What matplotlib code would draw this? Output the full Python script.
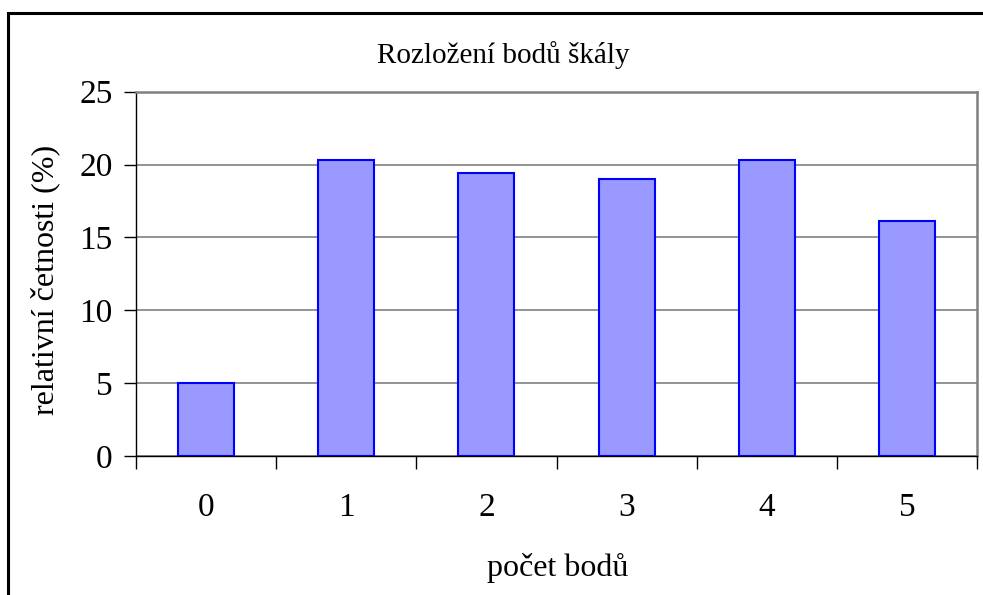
import numpy as np
import matplotlib
matplotlib.use('Agg')
import matplotlib.pyplot as plt
from matplotlib.patches import Rectangle

# data
categories = ['0', '1', '2', '3', '4', '5']
values = [5.0, 20.3, 19.4, 19.0, 20.3, 16.1]

plt.rcParams['font.family'] = ['Liberation Serif', 'DejaVu Serif']

fig = plt.figure(figsize=(9.83, 5.95), dpi=100)
ax = fig.add_axes([136/983, 1 - 456/595, (977 - 136)/983, (456 - 91.7)/595])

# outer chart border (right and bottom run off the picture)
fig.patches.append(Rectangle((8/983, -0.1), 1.2, 1 - 13/595 + 0.1,
                             transform=fig.transFigure, fill=False,
                             edgecolor='black', linewidth=2.2))

x = np.arange(len(categories)) + 0.5
ax.bar(x, values, width=0.4, color='#9999FF', edgecolor='#0000FF',
       linewidth=1.5, zorder=3)

ax.set_xlim(0, 6)
ax.set_ylim(0, 25)
ax.set_yticks(range(0, 26, 5))
ax.yaxis.grid(True, color='#808080', linewidth=1.2, zorder=0)

ax.set_xticks(x)
ax.set_xticklabels(categories)
ax.set_xticks(np.arange(0, 7), minor=True)
ax.tick_params(axis='x', which='major', length=0, pad=26, labelsize=24)
ax.tick_params(axis='x', which='minor', length=9, width=1, color='black')
ax.tick_params(axis='y', length=9, width=1, pad=8, labelsize=24)

for s in ['top', 'right']:
    ax.spines[s].set_color('#808080')
    ax.spines[s].set_linewidth(1.8)
for s in ['left', 'bottom']:
    ax.spines[s].set_color('black')
    ax.spines[s].set_linewidth(1.0)

fig.text(0.512, 1 - 55/595, 'Rozložení bodů škály', ha='center', va='center', fontsize=21)
fig.text(0.567, 1 - 568/595, 'počet bodů', ha='center', va='center', fontsize=23)
fig.text(45/983, 1 - 280/595, 'relativní četnosti (%)', ha='center', va='center',
         rotation=90, fontsize=23)

fig.savefig('out.png', dpi=100)
